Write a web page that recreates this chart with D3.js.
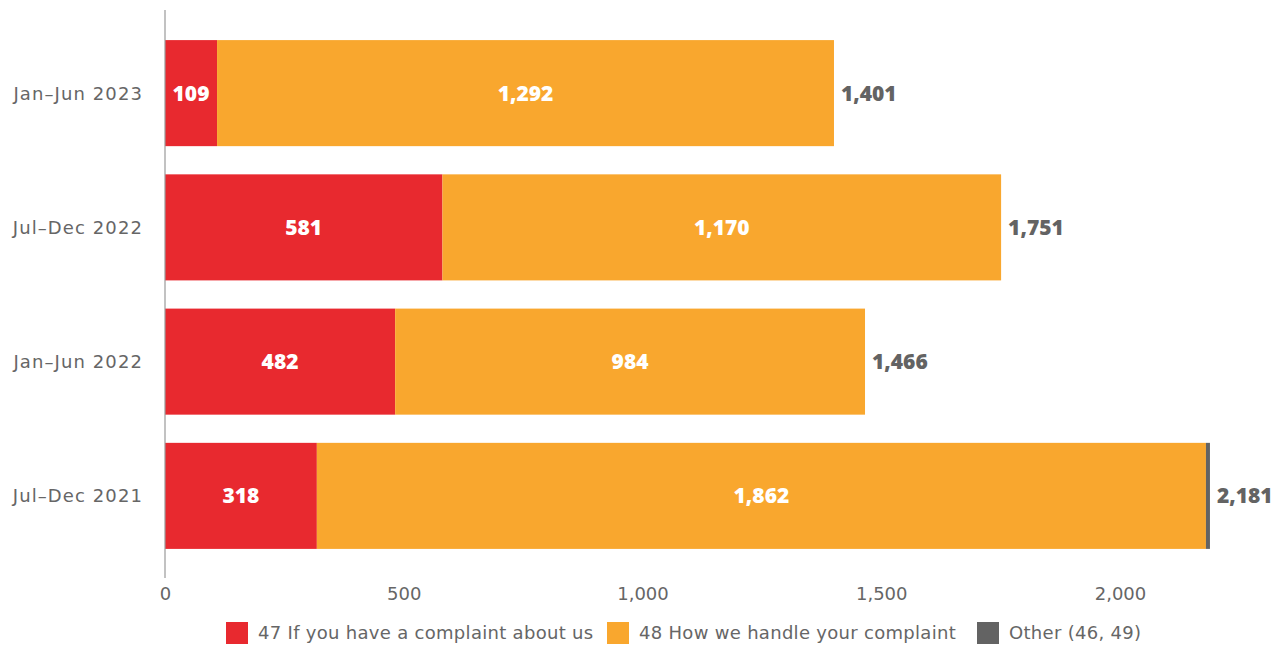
<!DOCTYPE html>
<html>
<head>
<meta charset="utf-8">
<script src="https://cdn.jsdelivr.net/npm/d3@7"></script>
<style>
  html, body { margin: 0; padding: 0; background: #fff; }
  svg { display: block; font-family: "DejaVu Sans", sans-serif; }
  .value { font-family: "Open Sans", sans-serif; font-weight: 800; }
</style>
</head>
<body>
<svg id="chart" width="1282" height="650"></svg>
<script>
// Complaints by section, per half-year period
const periods = ["Jan–Jun 2023", "Jul–Dec 2022", "Jan–Jun 2022", "Jul–Dec 2021"];
const complaintAboutUs = [109, 581, 482, 318];
const howWeHandle = [1292, 1170, 984, 1862];
const other = [0, 0, 0, 1];
const totals = [1401, 1751, 1466, 2181];
const xTicks = [0, 500, 1000, 1500, 2000];

const seriesNames = [
  "47 If you have a complaint about us",
  "48 How we handle your complaint",
  "Other (46, 49)"
];
const seriesColors = ["#E8292F", "#F9A72E", "#636363"];

const rows = periods.map((p, i) => ({
  period: p,
  s0: complaintAboutUs[i],
  s1: howWeHandle[i],
  s2: other[i],
  total: totals[i]
}));

const svg = d3.select("#chart");
const left = 165;
const minSegment = 4; // keep very small segments visible

const x = d3.scaleLinear().domain([0, 2200]).range([left, left + 0.4775 * 2200]);
const y = d3.scaleBand().domain(periods).range([26, 563])
  .paddingInner(0.21).paddingOuter(0.105);

const stack = d3.stack().keys(["s0", "s1", "s2"]);
const layers = stack(rows);
const segWidth = s => Math.max(x(s[1]) - x(s[0]), minSegment);

// stacked segments
svg.append("g").selectAll("g")
  .data(layers)
  .join("g")
  .attr("fill", (d, i) => seriesColors[i])
  .selectAll("rect")
  .data(d => d.filter(s => s[1] - s[0] > 0))
  .join("rect")
  .attr("x", d => x(d[0]))
  .attr("y", d => y(d.data.period))
  .attr("height", y.bandwidth())
  .attr("width", segWidth);

// right edge of each drawn bar
const barEnd = rows.map((r, i) => d3.max(layers, l => {
  const s = l[i];
  return s[1] - s[0] > 0 ? x(s[0]) + segWidth(s) : x(0);
}));

// values inside the red and orange segments
layers.slice(0, 2).forEach(layer => {
  svg.append("g").selectAll("text")
    .data(layer)
    .join("text")
    .attr("class", "value")
    .attr("x", d => (x(d[0]) + x(d[1])) / 2)
    .attr("y", d => y(d.data.period) + y.bandwidth() / 2)
    .attr("dy", "0.36em")
    .attr("text-anchor", "middle")
    .attr("fill", "#fff")
    .attr("font-size", 21)
    .text(d => d3.format(",")(d[1] - d[0]));
});

// totals at bar ends
svg.append("g").selectAll("text")
  .data(rows)
  .join("text")
  .attr("class", "value")
  .attr("x", (d, i) => barEnd[i] + 7)
  .attr("y", d => y(d.period) + y.bandwidth() / 2)
  .attr("dy", "0.36em")
  .attr("fill", "#636363")
  .attr("font-size", 21)
  .text(d => d3.format(",")(d.total));

// category labels
svg.append("g").selectAll("text")
  .data(periods)
  .join("text")
  .attr("x", 143)
  .attr("y", d => y(d) + y.bandwidth() / 2)
  .attr("dy", "0.36em")
  .attr("text-anchor", "end")
  .attr("fill", "#666")
  .attr("font-size", 18)
  .attr("letter-spacing", 1.1)
  .text(d => d);

// vertical baseline
svg.append("line")
  .attr("x1", x(0)).attr("x2", x(0))
  .attr("y1", 10).attr("y2", 578)
  .attr("stroke", "#999").attr("stroke-width", 1.2);

// x axis tick labels
const xAxis = d3.axisBottom(x).tickValues(xTicks).tickSize(0).tickPadding(0)
  .tickFormat(d3.format(","));
const gx = svg.append("g").attr("transform", "translate(0,587)").call(xAxis);
gx.select(".domain").remove();
gx.selectAll("text")
  .attr("fill", "#666")
  .attr("font-size", 18)
  .attr("font-family", "DejaVu Sans, sans-serif")
  .attr("dy", "0.71em");

// legend
const legendItems = [
  { name: seriesNames[0], color: seriesColors[0], x: 226 },
  { name: seriesNames[1], color: seriesColors[1], x: 607 },
  { name: seriesNames[2], color: seriesColors[2], x: 977 }
];
const lg = svg.append("g").selectAll("g")
  .data(legendItems)
  .join("g")
  .attr("transform", d => `translate(${d.x},622)`);
lg.append("rect").attr("width", 22).attr("height", 22).attr("fill", d => d.color);
lg.append("text")
  .attr("x", 32).attr("y", 11).attr("dy", "0.36em")
  .attr("fill", "#666").attr("font-size", 18)
  .attr("letter-spacing", 0.3)
  .text(d => d.name);
</script>
</body>
</html>
